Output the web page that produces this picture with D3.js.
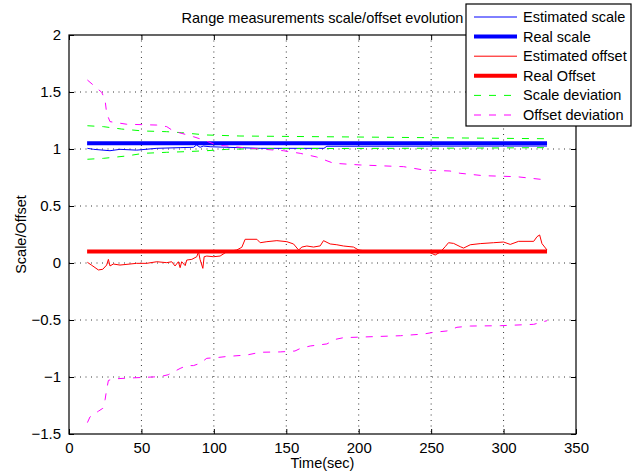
<!DOCTYPE html>
<html lang="en">
<head>
<meta charset="UTF-8">
<title>Range measurements scale/offset evolution</title>
<script src="https://d3js.org/d3.v7.min.js"></script>
<style>
    body { margin: 0; background: #ffffff; }
    svg { display: block; font-family: "Liberation Sans", Arial, sans-serif; }
    .tick text { font-size: 15px; fill: #000; }
    .grid line { stroke: #000; stroke-dasharray: 1,4.5; stroke-width: 0.8; }
</style>
</head>
<body>
<svg width="638" height="474"></svg>
<script>
// Time axis and value axis ticks
var xTicks = [0, 50, 100, 150, 200, 250, 300, 350];
var yTicks = [-1.5, -1, -0.5, 0, 0.5, 1, 1.5, 2];

var tStart = 12.5, tEnd = 330;
var realScale = 1.05;
var realOffset = 0.1;

// [time, value] pairs
var estScale = [[12.7,1.006],[17,0.997],[28.3,0.985],[35.2,0.997],[46.7,0.99],[60.6,1.006],[76.7,1.012],
    [86,1.015],[88,1.035],[90.5,1.015],[92.8,1.026],[97.4,1.02],[109,1.015],[132,1.006],[176,1.006],
    [178,1.024],[250,1.025],[330,1.026]];

var estOffset = [[12.7,0.006],[15.7,-0.02],[20.3,-0.061],[23.3,-0.055],[26,-0.018],[27.2,0.032],[28.3,-0.026],
    [30.6,-0.009],[35.2,-0.018],[46.7,-0.003],[53.6,-0.003],[60.6,0.011],[67.5,0.003],[70.9,0.011],[73.2,-0.026],
    [75.5,0.011],[76.7,-0.041],[77.8,0.011],[80.2,-0.023],[81.3,0.026],[84.8,0.032],[88.2,0.055],[89.4,0.099],
    [90.5,0.03],[92.4,-0.047],[93.3,0.055],[95.1,0.061],[99.7,0.055],[104.3,0.061],[109,0.099],[115.8,0.114],
    [119.3,0.138],[121.6,0.208],[129.7,0.208],[132,0.178],[136.6,0.187],[143.5,0.196],[150.4,0.187],[155,0.167],
    [158.5,0.114],[160.8,0.14],[164.2,0.149],[168.8,0.14],[173.4,0.15],[175.7,0.196],[180.3,0.167],[184.9,0.16],
    [189.5,0.149],[196.4,0.14],[199.9,0.114],[205.6,0.105],[224.1,0.096],[235.5,0.099],[244.7,0.108],[249.4,0.09],
    [252.8,0.07],[256.3,0.096],[259.7,0.143],[262,0.178],[265.5,0.172],[270.1,0.143],[272.4,0.131],[277,0.16],
    [283.9,0.17],[293.1,0.178],[300,0.184],[304.6,0.163],[310.4,0.19],[320.8,0.19],[323.1,0.231],[324.9,0.246],
    [326.5,0.17],[330,0.114]];

var scaleDevUp = [[12.7,1.204],[23.7,1.196],[36.4,1.175],[51.3,1.158],[67.5,1.152],[77.8,1.143],[95,1.123],
    [118,1.114],[200,1.105],[260,1.098],[330,1.09]];
var scaleDevLow = [[12.7,0.91],[23.7,0.918],[39.9,0.939],[51.3,0.962],[67.5,0.971],[81.3,0.977],[95,0.985],
    [109,0.997],[132,1.003],[200,1.005],[280,1.008],[330,1.012]];

var offsetDevUp = [[12.7,1.605],[22.6,1.497],[24.9,1.43],[26,1.313],[28.3,1.24],[39.9,1.217],[60.6,1.21],
    [67.5,1.196],[72,1.158],[85.9,1.108],[92.8,1.079],[102,1.035],[118,1.015],[125,1.006],[148,0.985],
    [159.6,0.962],[171,0.93],[182.6,0.875],[201,0.86],[231,0.845],[244.8,0.816],[263,0.807],[270,0.787],
    [286,0.766],[309,0.757],[330,0.728]];
var offsetDevLow = [[12.7,-1.4],[14.5,-1.35],[20.3,-1.3],[23.3,-1.275],[24.9,-1.2],[26,-1.11],[27.2,-1.03],
    [30.6,-1.017],[39.9,-1.01],[62.9,-0.997],[68.5,-0.98],[76.7,-0.925],[81.3,-0.9],[85.9,-0.9],[90.5,-0.88],
    [95.1,-0.836],[102,-0.83],[109,-0.82],[122.8,-0.807],[132,-0.783],[145.8,-0.78],[156,-0.772],[159.6,-0.75],
    [166.5,-0.728],[178,-0.71],[183.8,-0.67],[189.5,-0.655],[210,-0.646],[228.7,-0.638],[244.8,-0.623],
    [251.7,-0.608],[261,-0.596],[267.8,-0.564],[277,-0.553],[297.8,-0.55],[320.8,-0.538],[330,-0.506]];

var legendNames = ["Estimated scale", "Real scale", "Estimated offset", "Real Offset", "Scale deviation", "Offset deviation"];

var margin = { top: 35, right: 62, bottom: 40, left: 69 },
    width = 638 - margin.left - margin.right,
    height = 474 - margin.top - margin.bottom;

var svg = d3.select("svg");
var g = svg.append("g").attr("transform", "translate(" + margin.left + "," + margin.top + ")");

var x = d3.scaleLinear().domain([0, 350]).range([0, width]);
var y = d3.scaleLinear().domain([-1.5, 2]).range([height, 0]);

// dotted grid
g.append("g").attr("class", "grid")
    .selectAll("line").data(xTicks.slice(1, -1)).enter().append("line")
    .attr("x1", d => x(d)).attr("x2", d => x(d)).attr("y1", 0).attr("y2", height);
g.append("g").attr("class", "grid")
    .selectAll("line").data(yTicks.slice(1, -1)).enter().append("line")
    .attr("y1", d => y(d)).attr("y2", d => y(d)).attr("x1", 0).attr("x2", width);

// axes, matlab style: inward ticks on all four sides
g.append("g").attr("transform", "translate(0," + height + ")")
    .call(d3.axisBottom(x).tickValues(xTicks).tickSizeInner(-5).tickSizeOuter(0).tickPadding(8))
    .call(a => a.select(".domain").remove());
g.append("g")
    .call(d3.axisLeft(y).tickValues(yTicks).tickFormat(d => d < 0 ? "\u2212" + Math.abs(d) : d)
        .tickSizeInner(-5).tickSizeOuter(0).tickPadding(8))
    .call(a => a.select(".domain").remove());
g.append("g")
    .call(d3.axisTop(x).tickValues(xTicks).tickSizeInner(-5).tickSizeOuter(0).tickFormat(""))
    .call(a => a.select(".domain").remove());
g.append("g").attr("transform", "translate(" + width + ",0)")
    .call(d3.axisRight(y).tickValues(yTicks).tickSizeInner(-5).tickSizeOuter(0).tickFormat(""))
    .call(a => a.select(".domain").remove());
g.selectAll(".tick line").attr("stroke", "#000");

g.append("rect").attr("width", width).attr("height", height)
    .attr("fill", "none").attr("stroke", "#000").attr("stroke-width", 1.2);

var line = d3.line().x(d => x(d[0])).y(d => y(d[1]));

var styles = [
    { color: "#0000ff", w: 1, dash: null },
    { color: "#0000ff", w: 4, dash: null },
    { color: "#ff0000", w: 1, dash: null },
    { color: "#ff0000", w: 4, dash: null },
    { color: "#00ff00", w: 1, dash: "7,8" },
    { color: "#ff00ff", w: 1, dash: "7,8" }
];

var series = [
    [estScale],
    [[[tStart, realScale], [tEnd, realScale]]],
    [estOffset],
    [[[tStart, realOffset], [tEnd, realOffset]]],
    [scaleDevUp, scaleDevLow],
    [offsetDevUp, offsetDevLow]
];

series.forEach(function(lines, i) {
    lines.forEach(function(pts) {
        g.append("path").datum(pts)
            .attr("d", line)
            .attr("fill", "none")
            .attr("stroke", styles[i].color)
            .attr("stroke-width", styles[i].w)
            .attr("stroke-dasharray", styles[i].dash);
    });
});

// title and axis labels
svg.append("text").attr("x", margin.left + width / 2).attr("y", 23)
    .attr("text-anchor", "middle").attr("font-size", "14.5px").text("Range measurements scale/offset evolution");
svg.append("text").attr("x", margin.left + width / 2).attr("y", 468)
    .attr("text-anchor", "middle").attr("font-size", "14.5px").text("Time(sec)");
svg.append("text").attr("transform", "translate(26," + (margin.top + height / 2) + ") rotate(-90)")
    .attr("text-anchor", "middle").attr("font-size", "14.5px").text("Scale/Offset");

// legend
var lg = svg.append("g").attr("transform", "translate(466,4)");
lg.append("rect").attr("width", 165).attr("height", 122)
    .attr("fill", "#fff").attr("stroke", "#000").attr("stroke-width", 1.2);
var item = lg.selectAll(".item").data(legendNames).enter().append("g")
    .attr("transform", (d, i) => "translate(0," + (13 + i * 19.6) + ")");
item.append("line").attr("x1", 8).attr("x2", 51)
    .attr("stroke", (d, i) => styles[i].color)
    .attr("stroke-width", (d, i) => styles[i].w)
    .attr("stroke-dasharray", (d, i) => styles[i].dash);
item.append("text").attr("x", 57).attr("dy", "0.35em").attr("font-size", "14.5px").text(d => d);
</script>
</body>
</html>
